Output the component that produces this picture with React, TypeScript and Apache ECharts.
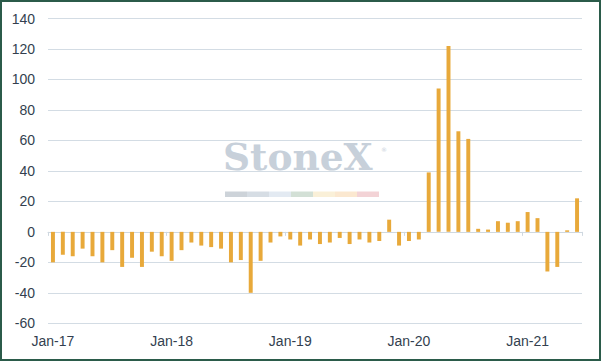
import React, { useEffect, useRef } from "react";
import * as echarts from "echarts";

const categories: string[] = (() => {
  const m = ["Jan", "Feb", "Mar", "Apr", "May", "Jun", "Jul", "Aug", "Sep", "Oct", "Nov", "Dec"];
  const out: string[] = [];
  for (let y = 17; y <= 21; y++) {
    for (let i = 0; i < 12; i++) {
      if (y === 21 && i > 5) break;
      out.push(`${m[i]}-${y}`);
    }
  }
  return out;
})();

const values2017 = [-20, -15, -16, -11, -16, -20, -12, -23, -17, -23, -13, -16];
const values2018 = [-19, -12, -7, -9, -10, -11, -20, -18.5, -40, -19, -7, -3];
const values2019 = [-5, -9, -5, -8, -7, -4, -8, -5, -7, -6, 8, -9];
const values2020 = [-6, -5, 39, 94, 122, 66, 61, 2, 1.5, 7, 6, 7];
const values2021 = [13, 9, -26, -23, 1, 22];
const values = [...values2017, ...values2018, ...values2019, ...values2020, ...values2021];

const yTicks = { min: -60, max: 140, interval: 20 };

const stripColors = ["#CDD3D9", "#D6DDE4", "#E3EAF2", "#D3E0D6", "#FAF0D8", "#FBE8D0", "#F3D3D6"];

export default function App() {
  const ref = useRef<HTMLDivElement>(null);
  useEffect(() => {
    document.body.style.margin = "0";
    const chart = echarts.init(ref.current!, undefined, { renderer: "svg" });
    const labelColor = "#333F4F";
    const font = "'Liberation Sans', Arial, sans-serif";
    chart.setOption({
      animation: false,
      backgroundColor: "#ffffff",
      grid: { left: 48, right: 19, top: 18.5, bottom: 37.7, containLabel: false },
      graphic: [
        {
          type: "rect",
          z: 100,
          shape: { x: 1, y: 1, width: 599, height: 359 },
          style: { fill: "none", stroke: "#2B5B4A", lineWidth: 2 },
          silent: true,
        },
        {
          type: "text",
          z: 0,
          left: 223,
          top: 138,
          style: {
            text: "StoneX",
            fill: "#C7D0DA",
            font: "bold 37.5px 'DejaVu Serif', serif",
          },
          silent: true,
        },
        {
          type: "text",
          z: 0,
          left: 381,
          top: 146,
          style: { text: "®", fill: "#C7D0DA", font: "6px 'DejaVu Sans', sans-serif" },
          silent: true,
        },
        ...stripColors.map((c, i) => ({
          type: "rect",
          z: 0,
          shape: { x: 225 + i * 22, y: 191.5, width: 22, height: 5.5 },
          style: { fill: c },
          silent: true,
        })),
      ],
      xAxis: [
        {
          type: "category",
          data: categories,
          position: "bottom",
          axisLine: { show: false, onZero: false },
          axisTick: { show: false },
          axisLabel: {
            interval: 11,
            color: labelColor,
            fontSize: 14,
            fontFamily: font,
            margin: 11,
          },
          splitLine: { show: false },
        },
        {
          type: "category",
          data: categories,
          position: "bottom",
          axisLine: { show: true, onZero: true, lineStyle: { color: "#CFD8E0", width: 1 } },
          axisTick: { show: true, interval: 11, length: 4, lineStyle: { color: "#CFD8E0" } },
          axisLabel: { show: false },
          splitLine: { show: false },
        },
      ],
      yAxis: {
        type: "value",
        min: yTicks.min,
        max: yTicks.max,
        interval: yTicks.interval,
        axisLine: { show: false },
        axisTick: { show: false },
        axisLabel: { color: labelColor, fontSize: 14, fontFamily: font, margin: 13 },
        splitLine: { show: true, lineStyle: { color: "#D3DCE4", width: 1 } },
      },
      series: [
        {
          type: "bar",
          xAxisIndex: 0,
          data: values,
          barWidth: "40%",
          itemStyle: { color: "#E8A93A" },
          z: 2,
        },
      ],
    });
    return () => chart.dispose();
  }, []);
  return (
    <div
      ref={ref}
      style={{ position: "fixed", left: 0, top: 0, width: 601, height: 361 }}
    />
  );
}
